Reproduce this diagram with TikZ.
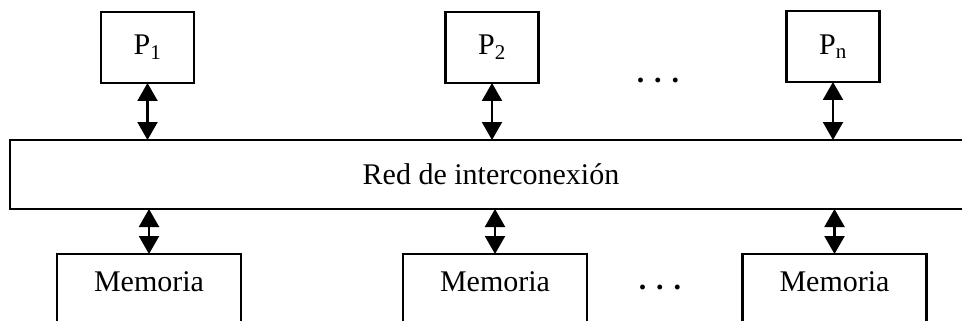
\documentclass[tikz,border=0pt]{standalone}
\usepackage{fontspec}
\setmainfont{Liberation Serif}
\usetikzlibrary{arrows.meta}
\begin{document}
\begin{tikzpicture}[x=1pt,y=-1pt,
  box/.style={draw,line width=2.8pt,inner sep=0pt,outer sep=0pt,font=\fontsize{30}{36}\selectfont},
  lbl/.style={font=\fontsize{30}{36}\selectfont,inner sep=0pt,anchor=base},
  link/.style={line width=2.2pt,{Triangle[width=20pt,length=18pt]}-{Triangle[width=20pt,length=18pt]}}]
\useasboundingbox (0,0) rectangle (962,321);
\clip (0,0) rectangle (962,321);
% processors
\node[box,minimum width=93pt,minimum height=71pt] (p1) at (147.5,47.5) {P\textsubscript{1}};
\node[box,minimum width=93pt,minimum height=71pt] (p2) at (492,47.5) {P\textsubscript{2}};
\node[box,minimum width=93pt,minimum height=71pt] (pn) at (833,46.5) {P\textsubscript{n}};
% network
\node[box,minimum width=990pt,minimum height=69pt] (bus) at (505,174.5) {};
\node[lbl] (busl) at (491,184) {Red de interconexión};
% memories
\node[box,minimum width=184pt,minimum height=100pt] (m1) at (149,304) {};
\node[box,minimum width=184pt,minimum height=100pt] (m2) at (495,304) {};
\node[box,minimum width=184pt,minimum height=100pt] (m3) at (834.5,304) {};
\node[lbl] (m1l) at (149,291) {Memoria};
\node[lbl] (m2l) at (495,291) {Memoria};
\node[lbl] (m3l) at (834.5,291) {Memoria};
% dots
\node[lbl] (dtop) at (658,82) {\bfseries . . .};
\node[lbl] (dbot) at (660,289) {\bfseries . . .};
% links
\draw[link] (p1.south) -- (p1.south |- bus.north);
\draw[link] (p2.south) -- (p2.south |- bus.north);
\draw[link] (pn.south) -- (pn.south |- bus.north);
\draw[link] (bus.south -| m1.north) -- (m1.north);
\draw[link] (bus.south -| m2.north) -- (m2.north);
\draw[link] (bus.south -| m3.north) -- (m3.north);
\end{tikzpicture}
\end{document}
